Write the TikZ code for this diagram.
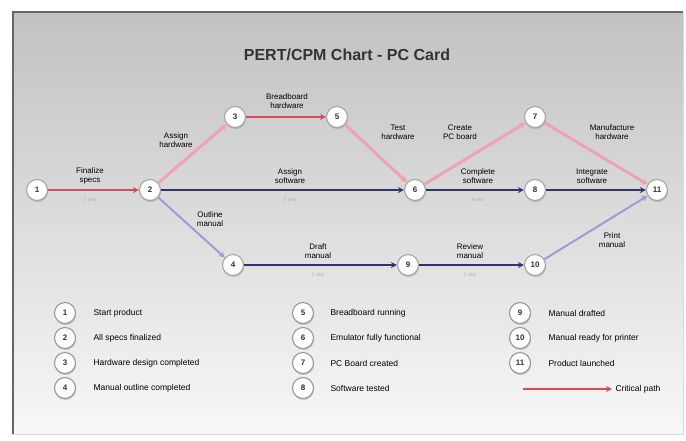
\documentclass[tikz,border=0pt]{standalone}
\usepackage{fontspec}
\setmainfont{Liberation Sans}
\usetikzlibrary{arrows.meta,shadows}
\definecolor{critred}{HTML}{D94A5C}
\definecolor{critpink}{HTML}{EFA3B2}
\definecolor{navy}{HTML}{33336E}
\definecolor{lav}{HTML}{9C9CD8}
\begin{document}
\begin{tikzpicture}[x=1pt,y=-1pt,
  ev/.style={circle,draw=gray!70,fill=white,line width=1.1pt,minimum size=21pt,inner sep=0pt,
     font=\fontsize{8}{8}\selectfont\bfseries,text=black!80,
     drop shadow={shadow xshift=0.6pt,shadow yshift=-1.6pt,opacity=0.35}},
  lev/.style={ev,minimum size=21pt,draw=gray!80},
  crit/.style={draw=critred,line width=2.4pt,-{Stealth[length=6pt,width=6pt]}},
  critd/.style={draw=critpink,line width=3pt,-{Stealth[length=6pt,width=7pt]}},
  norm/.style={draw=navy,line width=2pt,-{Stealth[length=6pt,width=6pt]}},
  normd/.style={draw=lav,line width=2pt,-{Stealth[length=6pt,width=6pt]}},
  lab/.style={font=\fontsize{8}{9}\selectfont,align=center,text=black},
  dur/.style={font=\fontsize{5}{5}\selectfont,text=black!30},
  leg/.style={font=\fontsize{8.5}{9}\selectfont,anchor=west,text=black}]
\useasboundingbox (0,0) rectangle (686,440);
\fill[white] (0,0) rectangle (686,440);
\shade[top color=black!24,bottom color=black!3] (13,12) rectangle (683,434);
\draw[black!60,line width=1.6pt] (683,12) -- (13,12) -- (13,434);
\draw[black!15,line width=0.8pt] (13,434) -- (683,434) -- (683,12);
\node[font=\fontsize{16}{16}\selectfont\bfseries,text=black!80] (title) at (347,55) {PERT/CPM Chart - PC Card};
% events
\node[ev] (n1) at (37,190) {1};
\node[ev] (n2) at (150,190) {2};
\node[ev] (n3) at (235,117) {3};
\node[ev] (n5) at (337,117) {5};
\node[ev] (n6) at (415,190) {6};
\node[ev] (n7) at (535,117) {7};
\node[ev] (n8) at (535,190) {8};
\node[ev] (n11) at (657,190) {11};
\node[ev] (n4) at (233,265) {4};
\node[ev] (n9) at (408,265) {9};
\node[ev] (n10) at (535,265) {10};
% activities
\draw[crit] (n1) -- (n2);
\draw[critd] (n2) -- (n3);
\draw[crit] (n3) -- (n5);
\draw[critd] (n5) -- (n6);
\draw[critd] (n6) -- (n7);
\draw[critd] (n7) -- (n11);
\draw[norm] (n2) -- (n6);
\draw[norm] (n6) -- (n8);
\draw[norm] (n8) -- (n11);
\draw[normd] (n2) -- (n4);
\draw[norm] (n4) -- (n9);
\draw[norm] (n9) -- (n10);
\draw[normd] (n10) -- (n11);
% labels
\node[lab] (l12) at (90,176) {Finalize\\specs};
\node[lab] (l23) at (176,140) {Assign\\hardware};
\node[lab] (l35) at (287,101) {Breadboard\\hardware};
\node[lab] (l56) at (398,132) {Test\\hardware};
\node[lab] (l67) at (460,132) {Create\\PC board};
\node[lab] (l711) at (612,132) {Manufacture\\hardware};
\node[lab] (l26) at (290,176) {Assign\\software};
\node[lab] (l68) at (478,176) {Complete\\software};
\node[lab] (l811) at (592,176) {Integrate\\software};
\node[lab] (l24) at (210,219) {Outline\\manual};
\node[lab] (l49) at (318,251) {Draft\\manual};
\node[lab] (l910) at (470,251) {Review\\manual};
\node[lab] (l1011) at (612,240) {Print\\manual};
\node[dur] (d12) at (90,200) {2 wks};
\node[dur] (d26) at (290,200) {6 wks};
\node[dur] (d68) at (478,200) {4 wks};
\node[dur] (d49) at (318,275) {3 wks};
\node[dur] (d910) at (470,275) {2 wks};
% legend
\node[lev] (k1) at (65,313) {1};
\node[lev] (k2) at (65,338) {2};
\node[lev] (k3) at (65,363) {3};
\node[lev] (k4) at (65,388) {4};
\node[leg] (t1) at (90,313) {Start product};
\node[leg] (t2) at (90,338) {All specs finalized};
\node[leg] (t3) at (90,363) {Hardware design completed};
\node[leg] (t4) at (90,388) {Manual outline completed};
\node[lev] (k5) at (303,313) {5};
\node[lev] (k6) at (303,338) {6};
\node[lev] (k7) at (303,363) {7};
\node[lev] (k8) at (303,388) {8};
\node[leg] (t5) at (327,313) {Breadboard running};
\node[leg] (t6) at (327,338) {Emulator fully functional};
\node[leg] (t7) at (327,363) {PC Board created};
\node[leg] (t8) at (327,388) {Software tested};
\node[lev] (k9) at (520,313) {9};
\node[lev] (k10) at (520,338) {10};
\node[lev] (k11) at (520,363) {11};
\node[leg] (t9) at (545,313) {Manual drafted};
\node[leg] (t10) at (545,338) {Manual ready for printer};
\node[leg] (t11) at (545,363) {Product launched};
\coordinate (cpa) at (523,389);
\node[leg] (tcp) at (612,389) {Critical path};
\draw[crit] (cpa) -- (tcp.west);
\end{tikzpicture}
\end{document}
